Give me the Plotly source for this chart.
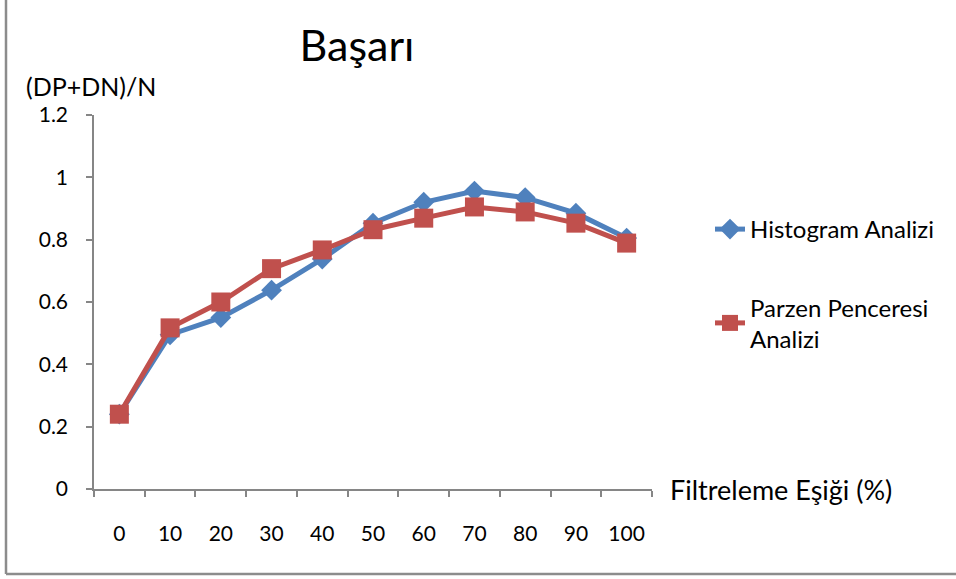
import plotly.graph_objects as go

categories = ["0", "10", "20", "30", "40", "50", "60", "70", "80", "90", "100"]
histogram = [0.24, 0.495, 0.55, 0.638, 0.738, 0.853, 0.92, 0.956, 0.935, 0.885, 0.805]
parzen = [0.24, 0.517, 0.60, 0.707, 0.767, 0.832, 0.869, 0.905, 0.889, 0.853, 0.789]
series_names = ["Histogram Analizi", "Parzen Penceresi<br>Analizi"]
y_ticks = [0, 0.2, 0.4, 0.6, 0.8, 1, 1.2]

FONT = "Lato"
W, H = 956, 579
L, R, T, B = 94, 304, 115, 90
pw, ph = W - L - R, H - T - B

fig = go.Figure()
fig.add_trace(go.Scatter(
    x=categories, y=histogram, name=series_names[0], mode="lines+markers",
    line=dict(color="#4F81BD", width=5),
    marker=dict(symbol="diamond", size=16, color="#4F81BD"),
    legendgroup="a",
))
fig.add_trace(go.Scatter(
    x=categories, y=parzen, name=series_names[1], mode="lines+markers",
    line=dict(color="#C0504D", width=5),
    marker=dict(symbol="square", size=19, color="#C0504D"),
    legendgroup="b",
))

axis_color = "#868686"
fig.update_layout(
    width=W, height=H,
    margin=dict(l=L, r=R, t=T, b=B),
    paper_bgcolor="white", plot_bgcolor="white",
    font=dict(family=FONT, size=20, color="black"),
    title=dict(text="Başarı", x=357 / W, xref="container", xanchor="center",
               y=1 - 46 / H, yref="container", yanchor="middle",
               font=dict(family=FONT, size=43, color="black")),
    xaxis=dict(
        type="category", range=[-0.5, 10.5],
        showgrid=False, zeroline=False,
        showline=True, linecolor=axis_color, linewidth=1.5,
        ticks="outside", tickson="boundaries", ticklen=6, tickcolor=axis_color, tickwidth=1.5,
        ticklabelstandoff=25,
        tickfont=dict(family=FONT, size=21, color="black"),
    ),
    yaxis=dict(
        range=[0, 1.2], tickvals=y_ticks,
        showgrid=False, zeroline=False,
        showline=True, linecolor=axis_color, linewidth=1.5,
        ticks="outside", ticklen=6, tickcolor=axis_color, tickwidth=1.5,
        ticklabelstandoff=14,
        tickfont=dict(family=FONT, size=21, color="black"),
    ),
    legend=dict(
        x=(710 - L) / pw, xanchor="left", y=(489 - 207) / ph, yanchor="top",
        font=dict(family=FONT, size=24, color="black"),
        tracegroupgap=44, bgcolor="rgba(0,0,0,0)",
    ),
    showlegend=True,
)

# axis titles
fig.add_annotation(text="(DP+DN)/N", xref="paper", yref="paper",
                   x=(24 - L) / pw, y=(489 - 86) / ph, xanchor="left", yanchor="middle",
                   showarrow=False, font=dict(family=FONT, size=25, color="black"))
fig.add_annotation(text="Filtreleme Eşiği (%)", xref="paper", yref="paper",
                   x=(668 - L) / pw, y=(489 - 489) / ph, xanchor="left", yanchor="middle",
                   showarrow=False, font=dict(family=FONT, size=27, color="black"))

# chart border (left and bottom visible)
border = "#8C8C8C"
fig.add_shape(type="line", xref="paper", yref="paper",
              x0=(6 - L) / pw, x1=(6 - L) / pw, y0=(489 + 5) / ph, y1=(489 - 574) / ph,
              line=dict(color=border, width=2.5))
fig.add_shape(type="line", xref="paper", yref="paper",
              x0=(6 - L) / pw, x1=(W + 5 - L) / pw, y0=(489 - 574) / ph, y1=(489 - 574) / ph,
              line=dict(color=border, width=2.5))

fig.write_html("out.html")
